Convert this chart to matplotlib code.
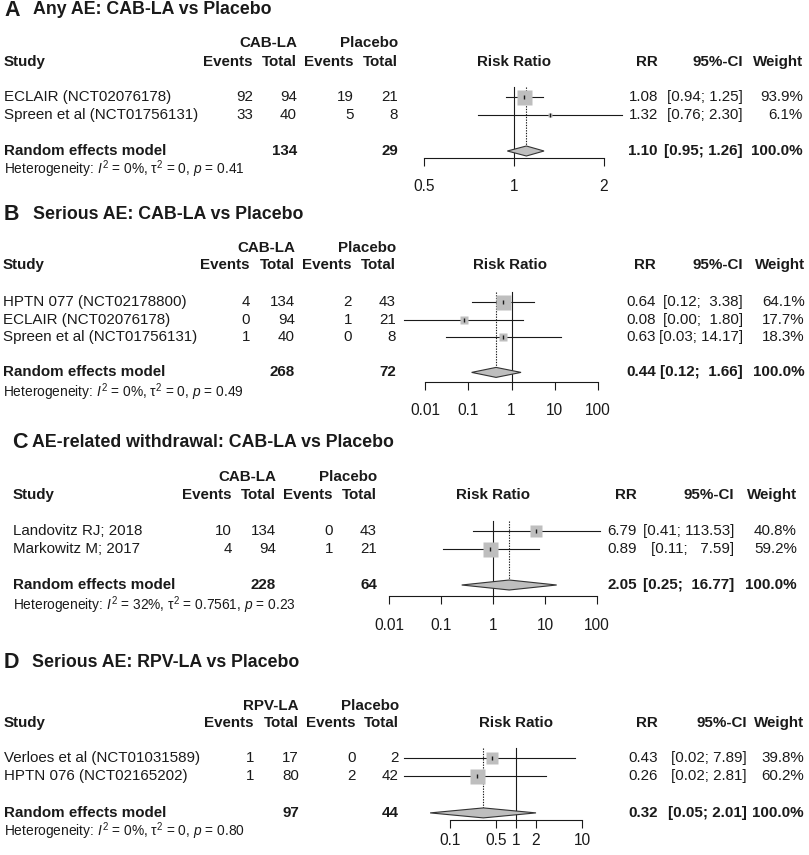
import numpy as np
import matplotlib.pyplot as plt

plt.rcParams['font.family'] = ['Liberation Sans', 'DejaVu Sans']
plt.rcParams['mathtext.fontset'] = 'custom'
plt.rcParams['mathtext.rm'] = 'Liberation Sans'
plt.rcParams['mathtext.it'] = 'Liberation Sans:italic'
plt.rcParams['mathtext.bf'] = 'Liberation Sans:bold'

# ---- data ----
# A: Any AE
a_title = "Any AE: CAB-LA vs Placebo"
a_group = "CAB-LA"
a_studies = ["ECLAIR (NCT02076178)", "Spreen et al (NCT01756131)"]
a_ev_t = [92, 33]
a_n_t = [94, 40]
a_ev_c = [19, 5]
a_n_c = [21, 8]
a_rr = [1.08, 1.32]
a_lo = [0.94, 0.76]
a_hi = [1.25, 2.30]
a_w = [93.9, 6.1]
a_pooled = [1.10, 0.95, 1.26]
a_het = ["0%", "0", "0.41"]
a_ticks = [0.5, 1, 2]

# B: Serious AE, CAB-LA
b_title = "Serious AE: CAB-LA vs Placebo"
b_group = "CAB-LA"
b_studies = ["HPTN 077 (NCT02178800)", "ECLAIR (NCT02076178)", "Spreen et al (NCT01756131)"]
b_ev_t = [4, 0, 1]
b_n_t = [134, 94, 40]
b_ev_c = [2, 1, 0]
b_n_c = [43, 21, 8]
b_rr = [0.64, 0.08, 0.63]
b_lo = [0.12, 0.0033, 0.03]
b_hi = [3.38, 1.80, 14.17]
b_w = [64.1, 17.7, 18.3]
b_pooled = [0.44, 0.12, 1.66]
b_het = ["0%", "0", "0.49"]
b_ticks = [0.01, 0.1, 1, 10, 100]

# C: AE-related withdrawal
c_title = "AE-related withdrawal: CAB-LA vs Placebo"
c_group = "CAB-LA"
c_studies = ["Landovitz RJ; 2018", "Markowitz M; 2017"]
c_ev_t = [10, 4]
c_n_t = [134, 94]
c_ev_c = [0, 1]
c_n_c = [43, 21]
c_rr = [6.79, 0.89]
c_lo = [0.41, 0.11]
c_hi = [113.53, 7.59]
c_w = [40.8, 59.2]
c_pooled = [2.05, 0.25, 16.77]
c_het = ["32%", "0.7561", "0.23"]
c_ticks = [0.01, 0.1, 1, 10, 100]

# D: Serious AE, RPV-LA
d_title = "Serious AE: RPV-LA vs Placebo"
d_group = "RPV-LA"
d_studies = ["Verloes et al (NCT01031589)", "HPTN 076 (NCT02165202)"]
d_ev_t = [1, 1]
d_n_t = [17, 80]
d_ev_c = [0, 2]
d_n_c = [2, 42]
d_rr = [0.43, 0.26]
d_lo = [0.02, 0.02]
d_hi = [7.89, 2.81]
d_w = [39.8, 60.2]
d_pooled = [0.32, 0.05, 2.01]
d_het = ["0%", "0", "0.80"]
d_ticks = [0.1, 0.5, 1, 2, 10]

panels = [
    dict(letter="A", title=a_title, group=a_group, studies=a_studies, ev_t=a_ev_t, n_t=a_n_t,
         ev_c=a_ev_c, n_c=a_n_c, rr=a_rr, lo=a_lo, hi=a_hi, w=a_w, pooled=a_pooled,
         het=a_het, ticks=a_ticks),
    dict(letter="B", title=b_title, group=b_group, studies=b_studies, ev_t=b_ev_t, n_t=b_n_t,
         ev_c=b_ev_c, n_c=b_n_c, rr=b_rr, lo=b_lo, hi=b_hi, w=b_w, pooled=b_pooled,
         het=b_het, ticks=b_ticks),
    dict(letter="C", title=c_title, group=c_group, studies=c_studies, ev_t=c_ev_t, n_t=c_n_t,
         ev_c=c_ev_c, n_c=c_n_c, rr=c_rr, lo=c_lo, hi=c_hi, w=c_w, pooled=c_pooled,
         het=c_het, ticks=c_ticks),
    dict(letter="D", title=d_title, group=d_group, studies=d_studies, ev_t=d_ev_t, n_t=d_n_t,
         ev_c=d_ev_c, n_c=d_n_c, rr=d_rr, lo=d_lo, hi=d_hi, w=d_w, pooled=d_pooled,
         het=d_het, ticks=d_ticks),
]

# ---- layout (pixels) ----
layouts = [
    dict(title_y=10, letter_x=4, title_x=33, head1=43, head2=62, study_x=4, row0=97, step=18,
         het_y=169, cols=[253, 297, 354, 398], rr_x=658, ci_x=743, w_x=803, rr_head=514,
         one_x=514, ppd=299, axis_y=158, pad=9),
    dict(title_y=214, letter_x=4, title_x=33, head1=248, head2=265, study_x=3, row0=302, step=17.6,
         het_y=392, cols=[250, 295, 352, 396], rr_x=656, ci_x=743, w_x=805, rr_head=510,
         one_x=511.5, ppd=43.3, axis_y=382, pad=9),
    dict(title_y=442, letter_x=12, title_x=32, head1=477, head2=495, study_x=13, row0=531, step=18,
         het_y=605, cols=[232, 276, 333, 377], rr_x=637, ci_x=734, w_x=797, rr_head=493,
         one_x=493, ppd=52, axis_y=596, pad=9.5),
    dict(title_y=662, letter_x=4, title_x=32, head1=706, head2=723, study_x=4, row0=758, step=18.3,
         het_y=831, cols=[254, 299, 356, 399], rr_x=658, ci_x=747, w_x=804, rr_head=516,
         one_x=516, ppd=66, axis_y=820, pad=3),
]

W, H = 809, 855
FS = 10.9
INK = '#1a1a1a'
GREY = '#bebebe'

fig = plt.figure(figsize=(W / 100, H / 100), dpi=100)
bg = fig.add_axes([0, 0, 1, 1])
bg.set_xlim(0, W)
bg.set_ylim(H, 0)
bg.axis('off')


def ci_strings(lo, hi):
    los = ["%.2f" % v for v in lo]
    his = ["%.2f" % v for v in hi]
    wl = max(len(s) for s in los)
    wh = max(len(s) for s in his)
    return ["[%s; %s]" % (a.rjust(wl), b.rjust(wh)) for a, b in zip(los, his)]


for P, L in zip(panels, layouts):
    n = len(P['studies'])
    ys = [L['row0'] + k * L['step'] for k in range(n)]
    y_pool = L['row0'] + (n + 1) * L['step']
    c1, c2, c3, c4 = L['cols']

    # titles
    bg.text(L['letter_x'], L['title_y'], P['letter'], fontsize=15.5, fontweight='bold',
            color=INK, va='center', ha='left')
    bg.text(L['title_x'], L['title_y'], P['title'], fontsize=12.8, fontweight='bold',
            color=INK, va='center', ha='left')

    # headers
    hkw = dict(fontsize=FS, fontweight='bold', color=INK, va='center')
    bg.text(c2, L['head1'], P['group'], ha='right', **hkw)
    bg.text(c4, L['head1'], "Placebo", ha='right', **hkw)
    bg.text(L['study_x'], L['head2'], "Study", ha='left', **hkw)
    for cx, lab in zip(L['cols'], ["Events", "Total", "Events", "Total"]):
        bg.text(cx, L['head2'], lab, ha='right', **hkw)
    bg.text(L['rr_head'], L['head2'], "Risk Ratio", ha='center', **hkw)
    bg.text(L['rr_x'], L['head2'], "RR", ha='right', **hkw)
    bg.text(L['ci_x'], L['head2'], "95%-CI", ha='right', **hkw)
    bg.text(L['w_x'], L['head2'], "Weight", ha='right', **hkw)

    # study rows
    cis = ci_strings(P['lo'] + [P['pooled'][1]], P['hi'] + [P['pooled'][2]])
    tkw = dict(fontsize=FS, color=INK, va='center')
    for k in range(n):
        y = ys[k]
        bg.text(L['study_x'], y, P['studies'][k], ha='left', **tkw)
        for cx, v in zip(L['cols'], [P['ev_t'][k], P['n_t'][k], P['ev_c'][k], P['n_c'][k]]):
            bg.text(cx, y, str(v), ha='right', **tkw)
        bg.text(L['rr_x'], y, "%.2f" % P['rr'][k], ha='right', **tkw)
        bg.text(L['ci_x'], y, cis[k], ha='right', **tkw)
        bg.text(L['w_x'], y, "%.1f%%" % P['w'][k], ha='right', **tkw)

    # pooled row
    bg.text(L['study_x'], y_pool, "Random effects model", ha='left', **hkw)
    bg.text(c2, y_pool, str(sum(P['n_t'])), ha='right', **hkw)
    bg.text(c4, y_pool, str(sum(P['n_c'])), ha='right', **hkw)
    bg.text(L['rr_x'], y_pool, "%.2f" % P['pooled'][0], ha='right', **hkw)
    bg.text(L['ci_x'], y_pool, cis[-1], ha='right', **hkw)
    bg.text(L['w_x'], y_pool, "100.0%", ha='right', **hkw)
    i2, tau2, pv = P['het']
    bg.text(L['study_x'], L['het_y'],
            "Heterogeneity: $I^2$ = %s, τ$^2$ = %s, $p$ = %s" % (i2, tau2, pv),
            fontsize=9.9, color=INK, va='center', ha='left')

    # forest axes
    x0, x1 = 380, 625
    ytop = L['row0'] - 16
    ybot = L['axis_y']
    ax = fig.add_axes([x0 / W, 1 - ybot / H, (x1 - x0) / W, (ybot - ytop) / H])
    ax.set_xscale('log')
    ax.set_xlim(10 ** ((x0 - L['one_x']) / L['ppd']), 10 ** ((x1 - L['one_x']) / L['ppd']))
    yb = (ybot - L['row0']) / L['step']
    yt = (ytop - L['row0']) / L['step']
    ax.set_ylim(yb, yt)
    ax.patch.set_visible(False)
    for s in ['top', 'left', 'right']:
        ax.spines[s].set_visible(False)
    ax.spines['bottom'].set_bounds(P['ticks'][0], P['ticks'][-1])
    ax.spines['bottom'].set_linewidth(0.8)
    ax.spines['bottom'].set_color(INK)
    ax.set_xticks(P['ticks'])
    ax.set_xticklabels(["%g" % t for t in P['ticks']])
    ax.minorticks_off()
    ax.set_yticks([])
    ax.tick_params(axis='x', direction='out', length=6, width=0.8, color=INK,
                   labelsize=11.2, labelcolor=INK, pad=L['pad'])

    top_line = -0.55
    dh = 5 / L['step']
    kp = n + 1
    ax.plot([1, 1], [top_line, yb], color=INK, lw=0.8, clip_on=False, zorder=1)
    ax.plot([P['pooled'][0]] * 2, [top_line, kp - dh], color=INK, lw=0.8,
            ls=(0, (1.2, 1.2)), zorder=1)
    wmax = max(P['w'])
    for k in range(n):
        ax.plot([P['lo'][k], P['hi'][k]], [k, k], color=INK, lw=0.8, zorder=2)
        ax.plot(P['rr'][k], k, marker='s', ms=10.8 * np.sqrt(P['w'][k] / wmax),
                color=GREY, mec='none', zorder=3)
        ax.plot(P['rr'][k], k, marker='|', ms=3.2, mew=1.0, color=INK, zorder=4)
    est, plo, phi = P['pooled']
    ax.fill([plo, est, phi, est], [kp, kp - dh, kp, kp + dh], fc=GREY, ec='#333333',
            lw=0.8, zorder=3)

fig.savefig("out.png", dpi=100)
